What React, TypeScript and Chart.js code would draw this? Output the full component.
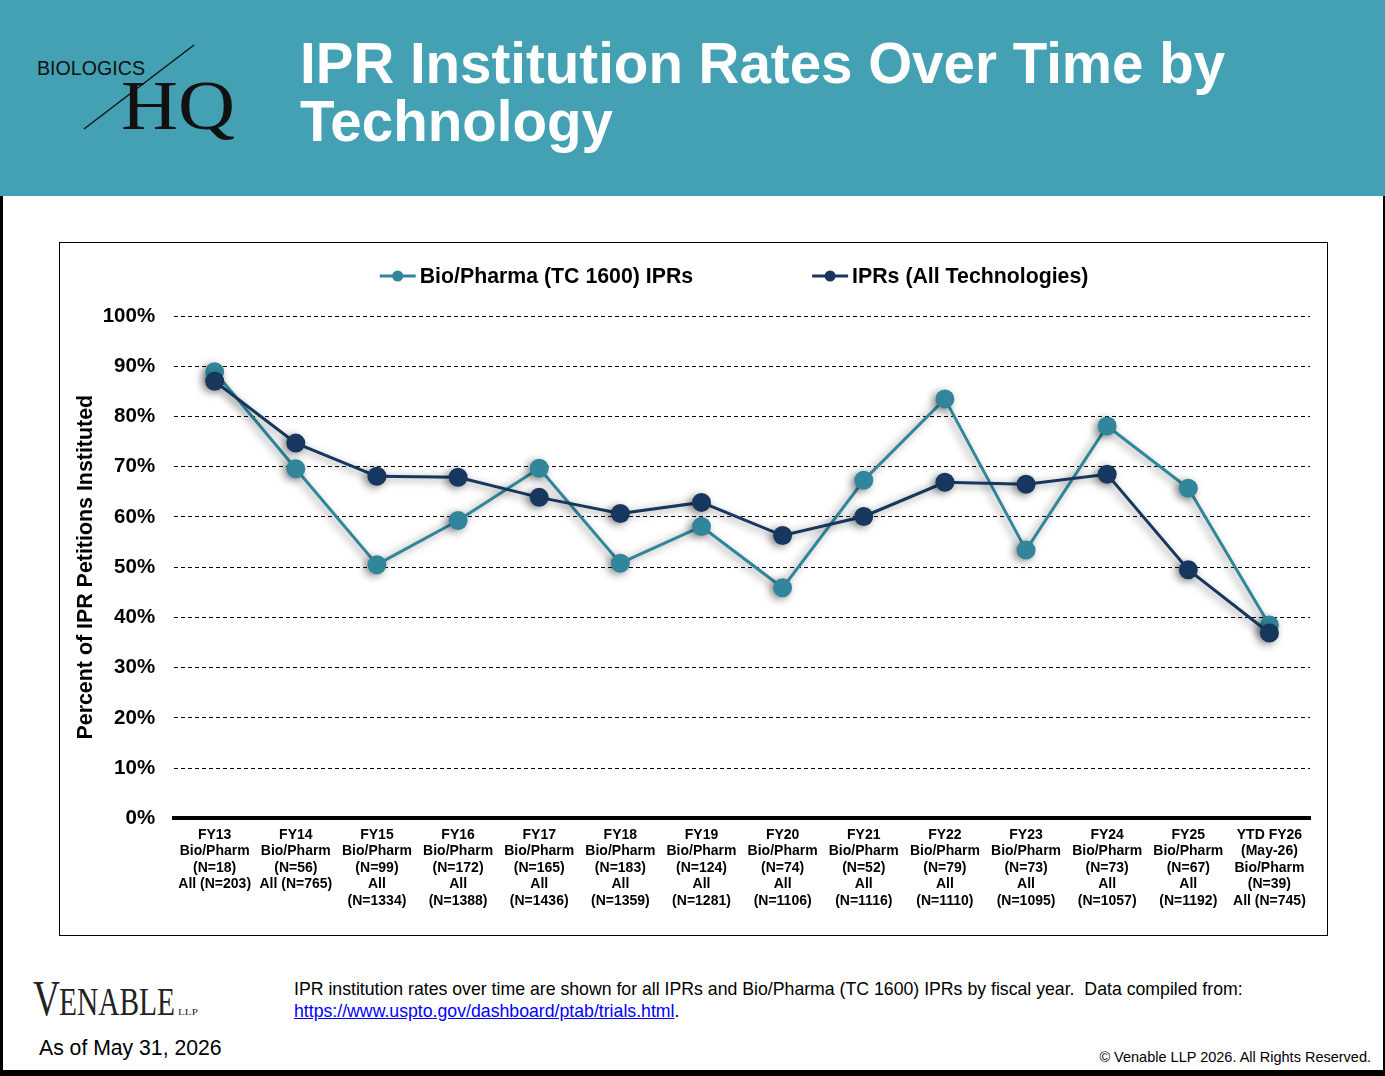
import { useEffect, useRef } from "react"
import { Chart, registerables, type ChartConfiguration, type Plugin } from "chart.js"

Chart.register(...registerables)

const FONT = "'Liberation Sans', Arial, Helvetica, sans-serif"

const tickLabels: string[][] = [
  ["FY13", "Bio/Pharm", "(N=18)", "All (N=203)"],
  ["FY14", "Bio/Pharm", "(N=56)", "All (N=765)"],
  ["FY15", "Bio/Pharm", "(N=99)", "All", "(N=1334)"],
  ["FY16", "Bio/Pharm", "(N=172)", "All", "(N=1388)"],
  ["FY17", "Bio/Pharm", "(N=165)", "All", "(N=1436)"],
  ["FY18", "Bio/Pharm", "(N=183)", "All", "(N=1359)"],
  ["FY19", "Bio/Pharm", "(N=124)", "All", "(N=1281)"],
  ["FY20", "Bio/Pharm", "(N=74)", "All", "(N=1106)"],
  ["FY21", "Bio/Pharm", "(N=52)", "All", "(N=1116)"],
  ["FY22", "Bio/Pharm", "(N=79)", "All", "(N=1110)"],
  ["FY23", "Bio/Pharm", "(N=73)", "All", "(N=1095)"],
  ["FY24", "Bio/Pharm", "(N=73)", "All", "(N=1057)"],
  ["FY25", "Bio/Pharm", "(N=67)", "All", "(N=1192)"],
  ["YTD FY26", "(May-26)", "Bio/Pharm", "(N=39)", "All (N=745)"],
]

// percent instituted
const bioPharmRates = [88.9, 69.6, 50.5, 59.3, 69.7, 50.8, 58.1, 45.9, 67.3, 83.5, 53.4, 78.1, 65.7, 38.5]
const allTechRates = [87.0, 74.7, 68.1, 67.9, 63.9, 60.7, 62.9, 56.3, 60.1, 66.9, 66.5, 68.5, 49.5, 36.9]

const TEAL = "#31869B"
const NAVY = "#17375E"

// legend drawn as a short line with a dot, like the original
const lineLegend: Plugin<"line"> = {
  id: "lineLegend",
  afterDraw(chart) {
    const { ctx, chartArea } = chart
    const markW = 36
    const gapText = 4
    const gapItems = 119
    ctx.save()
    ctx.font = `bold 21.3px ${FONT}`
    ctx.textBaseline = "middle"
    const items = chart.data.datasets.map((ds) => {
      const label = String(ds.label)
      return { label, color: String(ds.borderColor), w: markW + gapText + ctx.measureText(label).width }
    })
    const total = items.reduce((s, it) => s + it.w, 0) + gapItems * (items.length - 1)
    let x = (chartArea.left + chartArea.right) / 2 - total / 2 - 8
    const y = 33
    for (const it of items) {
      ctx.strokeStyle = it.color
      ctx.lineWidth = 3
      ctx.beginPath()
      ctx.moveTo(x, y)
      ctx.lineTo(x + markW, y)
      ctx.stroke()
      ctx.fillStyle = it.color
      ctx.beginPath()
      ctx.arc(x + markW / 2, y, 5.5, 0, Math.PI * 2)
      ctx.fill()
      ctx.fillStyle = "#000"
      ctx.fillText(it.label, x + markW + gapText, y + 1)
      x += it.w + gapItems
    }
    ctx.restore()
  },
}

const pointShadow: Plugin<"line"> = {
  id: "pointShadow",
  beforeDatasetsDraw(chart) {
    const ctx = chart.ctx
    ctx.save()
    ctx.shadowColor = "rgba(0,0,0,0.45)"
    ctx.shadowBlur = 9
    ctx.shadowOffsetX = -3
    ctx.shadowOffsetY = 2
  },
  afterDatasetsDraw(chart) {
    chart.ctx.restore()
  },
}

function RatesChart() {
  const canvasRef = useRef<HTMLCanvasElement>(null)
  const chartRef = useRef<Chart | null>(null)

  useEffect(() => {
    if (!canvasRef.current) return
    if (chartRef.current) chartRef.current.destroy()

    const config: ChartConfiguration<"line"> = {
      type: "line",
      data: {
        labels: tickLabels,
        datasets: [
          {
            label: "Bio/Pharma (TC 1600) IPRs",
            data: bioPharmRates,
            borderColor: TEAL,
            backgroundColor: TEAL,
            borderWidth: 3,
            pointRadius: 9.5,
            pointBorderWidth: 0,
            pointBackgroundColor: TEAL,
            tension: 0,
            order: 2,
          },
          {
            label: "IPRs (All Technologies)",
            data: allTechRates,
            borderColor: NAVY,
            backgroundColor: NAVY,
            borderWidth: 3,
            pointRadius: 9.5,
            pointBorderWidth: 0,
            pointBackgroundColor: NAVY,
            tension: 0,
            order: 1,
          },
        ],
      },
      options: {
        responsive: true,
        maintainAspectRatio: false,
        animation: false,
        layout: { padding: { top: 73, left: 9, right: 17, bottom: 18 } },
        plugins: {
          legend: { display: false },
          tooltip: { enabled: false },
        },
        scales: {
          x: {
            offset: true,
            grid: { display: false, drawTicks: false },
            border: { display: true, color: "#000", width: 4 },
            ticks: {
              color: "#000",
              font: { family: FONT, size: 14, weight: "bold", lineHeight: 1.18 },
              padding: 8,
              maxRotation: 0,
              minRotation: 0,
              autoSkip: false,
            },
          },
          y: {
            min: 0,
            max: 100,
            grid: { color: "#000", lineWidth: 1, drawTicks: false },
            border: { display: false, dash: [4, 3] },
            ticks: {
              stepSize: 10,
              color: "#000",
              font: { family: FONT, size: 20.5, weight: "bold" },
              padding: 19,
              callback: (v) => `${v}%`,
            },
            title: {
              display: true,
              text: "Percent of IPR Petitions Instituted",
              color: "#000",
              font: { family: FONT, size: 21.4, weight: "bold" },
              padding: { top: 4, bottom: -15 },
            },
          },
        },
      },
      plugins: [pointShadow, lineLegend],
    }

    chartRef.current = new Chart(canvasRef.current, config)
    return () => {
      if (chartRef.current) chartRef.current.destroy()
      chartRef.current = null
    }
  }, [])

  return (
    <div style={{ position: "relative", width: "100%", height: "100%" }}>
      <canvas ref={canvasRef} />
    </div>
  )
}

export default function App() {
  return (
    <div style={{ position: "relative", width: 1385, height: 1076, background: "#fff", overflow: "hidden", fontFamily: FONT }}>
      <style>{`body{margin:0}`}</style>

      {/* header band */}
      <div style={{ position: "absolute", left: 0, top: 0, width: 1385, height: 196, background: "#44A0B3" }} />
      <svg width={300} height={196} style={{ position: "absolute", left: 0, top: 0 }}>
        <text x={37} y={75} fontFamily={FONT} fontSize={19.5} fill="#111" textLength={108} lengthAdjust="spacingAndGlyphs">
          BIOLOGICS
        </text>
        <line x1={84} y1={129} x2={194} y2={45} stroke="#111" strokeWidth={1.4} />
        <text x={121} y={129} fontFamily="'Liberation Serif', 'Times New Roman', serif" fontSize={70} fill="#111" textLength={114} lengthAdjust="spacingAndGlyphs">
          HQ
        </text>
      </svg>
      <div
        style={{
          position: "absolute",
          left: 300,
          top: 35,
          color: "#fff",
          fontWeight: "bold",
          fontSize: 56.5,
          lineHeight: "58px",
          whiteSpace: "nowrap",
        }}
      >
        IPR Institution Rates Over Time by
        <br />
        Technology
      </div>

      {/* frame */}
      <div style={{ position: "absolute", left: 0, top: 196, width: 3, height: 880, background: "#000" }} />
      <div style={{ position: "absolute", left: 1383, top: 196, width: 2, height: 880, background: "#000" }} />
      <div style={{ position: "absolute", left: 0, top: 1070, width: 1385, height: 6, background: "#000" }} />

      {/* chart box */}
      <div style={{ position: "absolute", left: 59, top: 242, width: 1269, height: 694, border: "1px solid #000", boxSizing: "border-box" }}>
        <RatesChart />
      </div>

      {/* footer */}
      <svg width={220} height={60} style={{ position: "absolute", left: 0, top: 970 }}>
        <text x={33} y={45} fontFamily="'Liberation Serif', 'Times New Roman', serif" fontSize={50} fill="#222" textLength={27} lengthAdjust="spacingAndGlyphs">
          V
        </text>
        <text x={59} y={45} fontFamily="'Liberation Serif', 'Times New Roman', serif" fontSize={39} fill="#222" textLength={116} lengthAdjust="spacingAndGlyphs">
          ENABLE
        </text>
        <text x={178} y={45} fontFamily="'Liberation Serif', 'Times New Roman', serif" fontSize={9} fill="#222" textLength={20} lengthAdjust="spacingAndGlyphs">
          LLP
        </text>
      </svg>
      <div style={{ position: "absolute", left: 294, top: 978, fontSize: 17.7, lineHeight: "22px", color: "#000", whiteSpace: "nowrap" }}>
        IPR institution rates over time are shown for all IPRs and Bio/Pharma (TC 1600) IPRs by fiscal year.&nbsp; Data compiled from:
        <br />
        <a href="https://www.uspto.gov/dashboard/ptab/trials.html" style={{ color: "#0000FF", textDecoration: "underline" }}>
          https://www.uspto.gov/dashboard/ptab/trials.html
        </a>
        .
      </div>
      <div style={{ position: "absolute", left: 39, top: 1035, fontSize: 21.2, lineHeight: "26px", color: "#000" }}>As of May 31, 2026</div>
      <div style={{ position: "absolute", right: 14, top: 1048, fontSize: 14.5, lineHeight: "18px", color: "#000" }}>
        © Venable LLP 2026. All Rights Reserved.
      </div>
    </div>
  )
}
